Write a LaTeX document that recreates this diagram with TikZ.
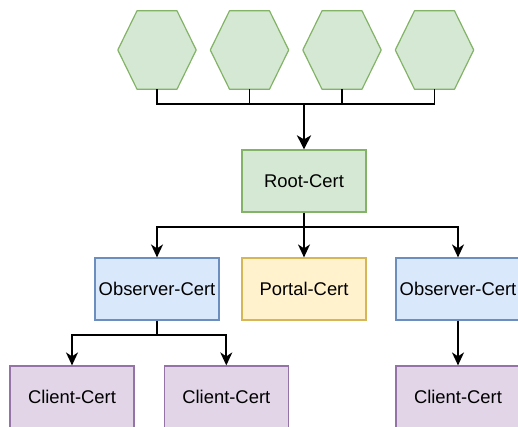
\documentclass[tikz,border=0pt]{standalone}
\usepackage{fontspec}
\setmainfont{Liberation Sans}
\usetikzlibrary{arrows.meta}

\definecolor{rootfill}{HTML}{D5E8D4}
\definecolor{rootline}{HTML}{82B366}
\definecolor{obsfill}{HTML}{DAE8FC}
\definecolor{obsline}{HTML}{6C8EBF}
\definecolor{portalfill}{HTML}{FFF2CC}
\definecolor{portalline}{HTML}{D6B656}
\definecolor{clientfill}{HTML}{E1D5E7}
\definecolor{clientline}{HTML}{9673A6}

\tikzset{
  cert/.style={draw, line width=1.2pt, minimum width=124pt, minimum height=62pt,
    inner sep=0pt, font=\fontsize{18.4}{22}\selectfont},
  rootcert/.style={cert, draw=rootline, fill=rootfill},
  obscert/.style={cert, draw=obsline, fill=obsfill},
  portalcert/.style={cert, draw=portalline, fill=portalfill},
  clientcert/.style={cert, draw=clientline, fill=clientfill},
  hexspot/.style={minimum width=78pt, minimum height=78pt, inner sep=0pt},
  hexagon/.style={draw=rootline, fill=rootfill, line width=1.2pt, line join=round},
  link/.style={line width=1.8pt, -{Stealth[length=13pt,width=12pt,inset=4pt]}},
  trunk/.style={line width=2.6pt, -{Stealth[length=14pt,width=14pt,inset=4pt]}},
}

\begin{document}
\begin{tikzpicture}[x=1pt, y=-1pt]
      \path[use as bounding box, clip] (0,0) rectangle (518,426);
      \path
        (157,50) node[hexspot] (h1){}
        (249.5,50) node[hexspot] (h2){}
        (342,50) node[hexspot] (h3){}
        (434.5,50) node[hexspot] (h4){}
        (304,181) node[rootcert] (root){Root-Cert}
        (157,289) node[obscert] (obs1){Observer-Cert}
        (304,289) node[portalcert] (portal){Portal-Cert}
        (458,289) node[obscert] (obs2){Observer-Cert}
        (72,397) node[clientcert] (c1){Client-Cert}
        (226.3,397) node[clientcert] (c2){Client-Cert}
        (458,397) node[clientcert] (c3){Client-Cert};
      \foreach \h in {h1,h2,h3,h4}
        \draw[hexagon] (\h.west) -- ([xshift=-20pt]\h.north) -- ([xshift=20pt]\h.north)
          -- (\h.east) -- ([xshift=20pt]\h.south) -- ([xshift=-20pt]\h.south) -- cycle;
      \coordinate (bus) at (304,104);
      \coordinate (split) at (304,227);
      \coordinate (fork) at (157,335);
      \begin{scope}[line width=1.8pt]
        \draw (h1.south) |- (bus);
        \draw (h2.south) |- (bus);
        \draw (h3.south) |- (bus);
        \draw (h4.south) |- (bus);
        \draw[trunk] (bus) -- (root);
        \draw[link] (root.south) -- (split) -| (obs1);
        \draw[link] (split) -- (portal);
        \draw[link] (split) -| (obs2);
        \draw[link] (obs1.south) -- (fork) -| (c1);
        \draw[link] (fork) -| (c2);
        \draw[link] (obs2) -- (c3);
      \end{scope}
    \end{tikzpicture}
\end{document}
